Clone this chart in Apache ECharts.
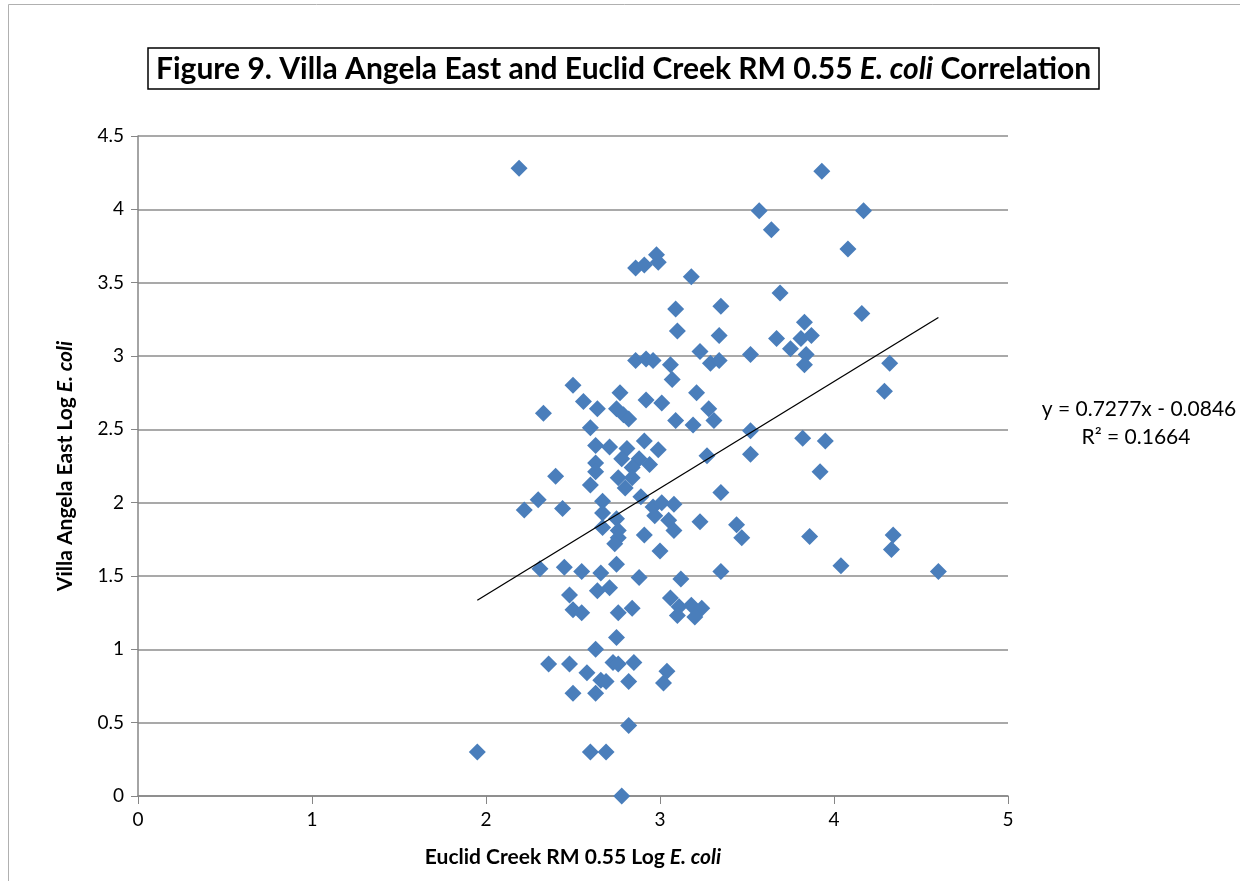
<!DOCTYPE html>
<html><head><meta charset="utf-8">
<script src="https://cdn.jsdelivr.net/npm/echarts@6/dist/echarts.min.js"></script>
<style>html,body{margin:0;padding:0;background:#fff}#c{width:1240px;height:881px}</style>
</head><body><div id="c"></div>
<script>
const euclidX = [2.19,2.86,2.91,2.98,2.99,3.18,3.09,3.35,3.10,3.34,3.23,2.86,2.92,2.96,3.06,3.29,3.34,3.07,2.50,2.77,3.21,2.56,2.92,3.01,2.64,2.75,2.79,2.82,3.28,3.31,2.33,3.09,3.19,2.60,2.63,2.71,2.91,2.81,2.99,2.78,2.88,2.94,2.84,2.63,2.63,3.27,2.40,2.76,2.84,2.60,2.80,2.89,3.35,2.30,2.22,2.44,2.67,2.67,2.96,3.01,3.08,2.97,3.05,2.75,2.67,2.76,3.08,3.23,3.44,3.47,2.76,2.74,2.91,3.00,2.31,2.45,2.55,2.66,2.75,2.88,3.12,3.35,2.48,2.64,2.71,2.50,2.55,2.76,2.84,3.06,3.11,3.18,3.24,3.10,3.20,2.75,2.63,2.36,2.48,2.58,2.73,2.76,2.85,2.66,2.69,2.82,3.04,3.02,2.50,2.63,2.82,1.95,2.60,2.69,2.78,3.93,3.57,4.17,3.64,4.08,3.69,4.16,3.83,3.67,3.81,3.87,3.75,3.52,3.84,3.83,4.32,4.29,3.52,3.82,3.95,3.52,3.92,3.86,4.34,4.33,4.04,4.60];
const villaY = [4.28,3.60,3.62,3.69,3.64,3.54,3.32,3.34,3.17,3.14,3.03,2.97,2.98,2.97,2.94,2.95,2.97,2.84,2.80,2.75,2.75,2.69,2.70,2.68,2.64,2.64,2.60,2.57,2.64,2.56,2.61,2.56,2.53,2.51,2.39,2.38,2.42,2.37,2.36,2.30,2.30,2.26,2.24,2.27,2.21,2.32,2.18,2.17,2.17,2.12,2.10,2.04,2.07,2.02,1.95,1.96,2.01,1.93,1.97,2.00,1.99,1.91,1.88,1.89,1.83,1.81,1.81,1.87,1.85,1.76,1.76,1.72,1.78,1.67,1.55,1.56,1.53,1.52,1.58,1.49,1.48,1.53,1.37,1.40,1.42,1.27,1.25,1.25,1.28,1.35,1.29,1.30,1.28,1.23,1.22,1.08,1.00,0.90,0.90,0.84,0.91,0.90,0.91,0.79,0.78,0.78,0.85,0.77,0.70,0.70,0.48,0.30,0.30,0.30,0.00,4.26,3.99,3.99,3.86,3.73,3.43,3.29,3.23,3.12,3.12,3.14,3.05,3.01,3.01,2.94,2.95,2.76,2.49,2.44,2.42,2.33,2.21,1.77,1.78,1.68,1.57,1.53];
const trendSlope = 0.7277;
const trendIntercept = -0.0846;
const trendRange = [1.95, 4.60];
const xTicks = [0,1,2,3,4,5];
const yTicks = [0,0.5,1,1.5,2,2.5,3,3.5,4,4.5];
const titleText = 'Figure 9. Villa Angela East and Euclid Creek RM 0.55 ';
const equationText = 'y = 0.7277x - 0.0846';
const r2Text = 'R² = 0.1664';

const pts = euclidX.map((x,i)=>[x, villaY[i]]);
const trend = trendRange.map(x=>[x, trendSlope*x + trendIntercept]);
const FONT = "Lato,'Liberation Sans',Arial,sans-serif";

const chart = echarts.init(document.getElementById('c'), null, {renderer:'canvas'});
chart.setOption({
  animation:false,
  backgroundColor:'#fff',
  title:{
    text: '{b|' + titleText + '}{i|E. coli}{b| Correlation}',
    left: 148, top: 48,
    padding:[6,8,5,8],
    borderColor:'#000', borderWidth:1.5,
    textStyle:{ rich:{
      b:{fontFamily:FONT,fontSize:30,fontWeight:'bold',color:'#000'},
      i:{fontFamily:FONT,fontSize:30,fontWeight:'bold',fontStyle:'italic',color:'#000'}
    }}
  },
  grid:{left:138,right:232,top:136,bottom:85,containLabel:false},
  xAxis:{
    type:'value', min:0, max:5, interval:1,
    name:'{b|Euclid Creek RM 0.55 Log }{i|E. coli}',
    nameLocation:'middle', nameGap:51,
    nameTextStyle:{rich:{
      b:{fontFamily:FONT,fontSize:21,fontWeight:'bold',color:'#000'},
      i:{fontFamily:FONT,fontSize:21,fontWeight:'bold',fontStyle:'italic',color:'#000'}
    }},
    axisLine:{show:true,onZero:false,lineStyle:{color:'#868686',width:1.5}},
    axisTick:{show:true,inside:false,length:8,lineStyle:{color:'#868686'}},
    axisLabel:{fontFamily:FONT,fontSize:19,color:'#000',margin:14,
      formatter:v=>xTicks.includes(v)?String(v):''},
    splitLine:{show:false}
  },
  yAxis:{
    type:'value', min:0, max:4.5, interval:0.5,
    name:'{b|Villa Angela East Log }{i|E. coli}',
    nameLocation:'middle', nameGap:62, nameRotate:90,
    nameTextStyle:{rich:{
      b:{fontFamily:FONT,fontSize:21,fontWeight:'bold',color:'#000'},
      i:{fontFamily:FONT,fontSize:21,fontWeight:'bold',fontStyle:'italic',color:'#000'}
    }},
    axisLine:{show:true,lineStyle:{color:'#868686',width:1.5}},
    axisTick:{show:true,length:7,lineStyle:{color:'#868686'}},
    axisLabel:{fontFamily:FONT,fontSize:19,color:'#000',margin:14,
      formatter:v=>yTicks.includes(v)?String(v):''},
    splitLine:{show:true,lineStyle:{color:'#8c8c8c',width:1.5}}
  },
  series:[
    {type:'scatter',data:pts,symbol:'diamond',symbolSize:17,
     itemStyle:{color:'#4a7ebb',opacity:1},z:3},
    {type:'line',data:trend,showSymbol:false,symbol:'none',
     lineStyle:{color:'#000',width:1.3},z:4,silent:true}
  ],
  graphic:[
    {type:'rect',shape:{x:8.5,y:4.5,width:1300,height:1000},
     style:{fill:'none',stroke:'#b0b0b0',lineWidth:1},silent:true,z:-1},
    {type:'text',x:1139,y:409,style:{text:equationText,font:"21px "+FONT,fill:'#000',
      textAlign:'center',textVerticalAlign:'middle'}},
    {type:'text',x:1136,y:437,style:{text:r2Text,font:"21px "+FONT,fill:'#000',
      textAlign:'center',textVerticalAlign:'middle'}}
  ]
});
</script></body></html>
